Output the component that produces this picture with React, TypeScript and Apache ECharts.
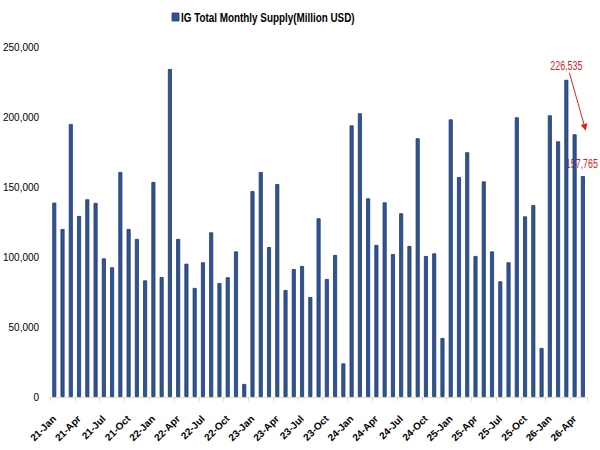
import React, { useEffect, useRef } from "react";
import * as echarts from "echarts";

const categories: string[] = [
  "21-Jan","21-Feb","21-Mar","21-Apr","21-May","21-Jun","21-Jul","21-Aug","21-Sep","21-Oct","21-Nov","21-Dec",
  "22-Jan","22-Feb","22-Mar","22-Apr","22-May","22-Jun","22-Jul","22-Aug","22-Sep","22-Oct","22-Nov","22-Dec",
  "23-Jan","23-Feb","23-Mar","23-Apr","23-May","23-Jun","23-Jul","23-Aug","23-Sep","23-Oct","23-Nov","23-Dec",
  "24-Jan","24-Feb","24-Mar","24-Apr","24-May","24-Jun","24-Jul","24-Aug","24-Sep","24-Oct","24-Nov","24-Dec",
  "25-Jan","25-Feb","25-Mar","25-Apr","25-May","25-Jun","25-Jul","25-Aug","25-Sep","25-Oct","25-Nov","25-Dec",
  "26-Jan","26-Feb","26-Mar","26-Apr","26-May",
];

const supply: number[] = [
  138800, 120000, 195000, 129300, 141200, 138600, 99000, 92600, 160700, 120000, 112900, 83300,
  153600, 85700, 234300, 112900, 95200, 77900, 96200, 117600, 81400, 85500, 104000, 9300,
  147100, 160700, 107100, 152100, 76400, 91400, 93600, 71400, 127600, 84300, 101400, 24000,
  194000, 202600, 141900, 108600, 139000, 102100, 131200, 107900, 184800, 100700, 102600, 42100,
  198300, 157100, 174800, 100700, 154000, 104000, 82600, 96200, 199800, 129000, 137100, 35000,
  201200, 182600, 226535, 187600, 157765,
];

const yTicks = { min: 0, max: 250000, interval: 50000 };
const seriesName = "IG Total Monthly Supply(Million USD)";
const calloutIdx: number[] = [62, 64];

const FONT = "'Liberation Sans', Arial, sans-serif";
const fmt = (v: number) => v.toLocaleString("en-US");
const BAR = "#2F5597";

export default function App() {
  const ref = useRef<HTMLDivElement>(null);
  useEffect(() => {
    if (!ref.current) return;
    const chart = echarts.init(ref.current, null, { renderer: "svg" });
    chart.setOption({
      animation: false,
      backgroundColor: "#ffffff",
      grid: { left: 45, right: 13, top: 47, bottom: 53, containLabel: false },
      xAxis: {
        type: "category",
        data: categories,
        boundaryGap: true,
        axisLine: { show: true, lineStyle: { color: "#d9d9d9", width: 1 } },
        axisTick: { show: true, interval: 2, length: 4, lineStyle: { color: "#d9d9d9" } },
        axisLabel: {
          interval: 2,
          rotate: 45,
          margin: 20,
          fontFamily: FONT,
          fontWeight: "bold",
          fontSize: 10,
          color: "#000",
        },
        splitLine: { show: false },
      },
      yAxis: {
        type: "value",
        min: yTicks.min,
        max: yTicks.max,
        interval: yTicks.interval,
        axisLine: { show: false },
        axisTick: { show: false },
        splitLine: { show: false },
        axisLabel: {
          margin: 11,
          fontFamily: FONT,
          fontSize: 10,
          color: "#000",
          formatter: (v: number) => fmt(v),
        },
      },
      series: [
        {
          name: seriesName,
          type: "bar",
          data: supply,
          barWidth: 4,
          itemStyle: { color: BAR, borderColor: "#1F3864", borderWidth: 0.8 },
        },
      ],
    });

    const p1 = chart.convertToPixel({ xAxisIndex: 0, yAxisIndex: 0 }, [calloutIdx[0], supply[calloutIdx[0]]]) as number[];
    const p2 = chart.convertToPixel({ xAxisIndex: 0, yAxisIndex: 0 }, [calloutIdx[1], supply[calloutIdx[1]]]) as number[];
    const red = "#E0201B";
    const sx = p1[0] + 3, sy = p1[1] - 7;
    const ex = p2[0] + 3, ey = p1[1] + 51;
    const ang = Math.atan2(ey - sy, ex - sx);
    const ah = 7, aw = 3.5;
    const bx = ex - ah * Math.cos(ang), by = ey - ah * Math.sin(ang);
    chart.setOption({
      graphic: [
        {
          type: "rect",
          shape: { x: 172, y: 13, width: 7, height: 8 },
          style: { fill: BAR, stroke: "#1F3864", lineWidth: 0.8 },
        },
        {
          type: "text",
          x: 181,
          y: 17,
          scaleX: 0.76,
          style: { text: seriesName, fill: "#000", font: `bold 13px ${FONT}`, align: "left", verticalAlign: "middle" },
        },
        {
          type: "text",
          x: p1[0],
          y: p1[1] - 14,
          scaleX: 0.74,
          style: { text: fmt(supply[calloutIdx[0]]), fill: red, font: `12px ${FONT}`, align: "center", verticalAlign: "middle" },
        },
        {
          type: "line",
          shape: { x1: sx, y1: sy, x2: bx, y2: by },
          style: { stroke: red, lineWidth: 1 },
        },
        {
          type: "polygon",
          shape: {
            points: [
              [ex, ey],
              [bx + aw * Math.sin(ang), by - aw * Math.cos(ang)],
              [bx - aw * Math.sin(ang), by + aw * Math.cos(ang)],
            ],
          },
          style: { fill: red },
        },
        {
          type: "text",
          x: p2[0] - 1,
          y: p2[1] - 13,
          scaleX: 0.74,
          style: { text: fmt(supply[calloutIdx[1]]), fill: red, font: `12px ${FONT}`, align: "center", verticalAlign: "middle" },
        },
      ],
    });
    return () => chart.dispose();
  }, []);
  return <div ref={ref} style={{ width: 600, height: 450, position: "absolute", left: 0, top: 0 }} />;
}
